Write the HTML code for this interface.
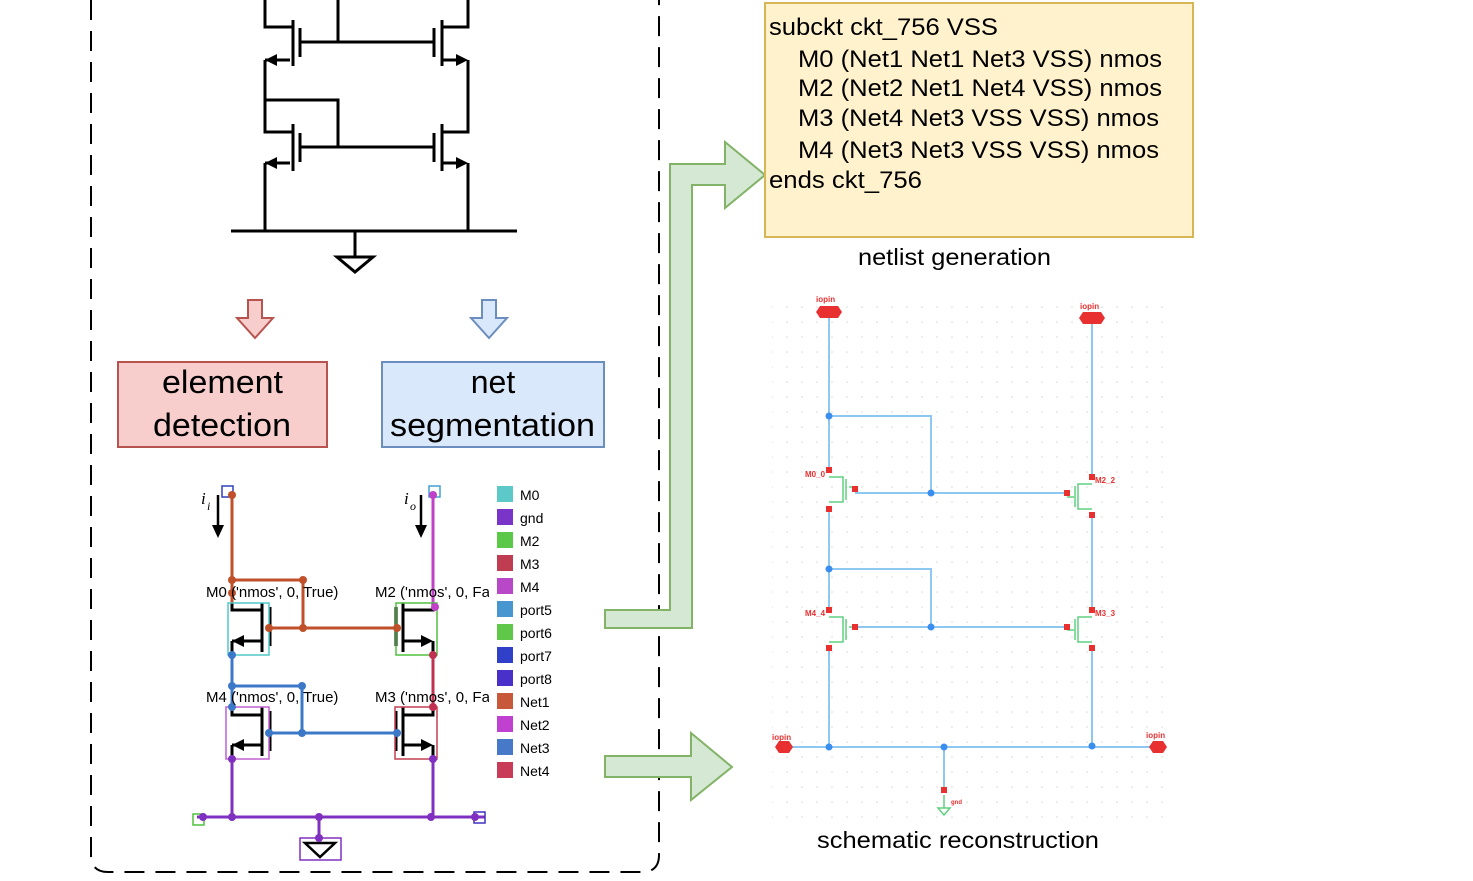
<!DOCTYPE html>
<html><head><meta charset="utf-8"><style>
body{margin:0;background:#fff;width:1473px;height:881px;overflow:hidden}
svg{display:block;font-family:"Liberation Sans",Arial,sans-serif}
</style></head><body>
<svg width="1473" height="881" viewBox="0 0 1473 881">
<defs>
<pattern id="grid" x="0" y="0" width="15" height="15" patternUnits="userSpaceOnUse"><circle cx="7" cy="7" r="0.8" fill="#d8d8d8"/></pattern>
</defs>
<path d="M91 0 V855 Q91 872 108 872 H642 Q659 872 659 855 V0" fill="none" stroke="#000" stroke-width="2" stroke-dasharray="20,11"/>

<g stroke="#000" stroke-width="3" fill="none">
<path d="M265 0V27H293 M293 20V66 M300 28V57 M300 42H434 M338 0V42 M265 60V100H338V147 M265 60H290"/>
<path d="M265 100V132H293 M293 124V171 M300 133V162 M300 147H434 M265 163H290 M265 163V231"/>
<path d="M468 0V27H442 M442 20V66 M434 28V57 M442 60H465 M468 60V132H442 M442 124V171 M434 133V162 M442 163H465 M468 163V231"/>
<path d="M231 231H517 M355 231V257 M337 257H373L355 272Z"/>
</g>
<g fill="#000">
<path d="M265 60l12-6v12z M265 163l12-6v12z M468 60l-12-6v12z M468 163l-12-6v12z"/>
</g>

<path d="M248 300H262V318H273L255 338L237 318H248Z" fill="#f8cecc" stroke="#b85450" stroke-width="2"/>
<path d="M482 300H496V318H507L489 338L471 318H482Z" fill="#dae8fc" stroke="#6c8ebf" stroke-width="2"/>

<rect x="118" y="362" width="209" height="85" fill="#f8cecc" stroke="#b85450" stroke-width="2"/>
<text x="162" y="393" font-size="32" textLength="121" lengthAdjust="spacingAndGlyphs">element</text>
<text x="153" y="436" font-size="32" textLength="138" lengthAdjust="spacingAndGlyphs">detection</text>
<rect x="382" y="362" width="222" height="85" fill="#dae8fc" stroke="#6c8ebf" stroke-width="2"/>
<text x="493" y="393" font-size="32" text-anchor="middle">net</text>
<text x="390" y="436" font-size="32" textLength="205" lengthAdjust="spacingAndGlyphs">segmentation</text>

<g fill="none" stroke-width="3">
<path d="M232 495V610H262 M262 603V652 M270 607V646 M232 641H262 M232 641V715H262 M262 707V756 M270 711V751 M232 745H262 M232 745V817 M433 495V610H403 M403 603V652 M396 607V646 M403 641H430 M433 641V715H403 M403 707V756 M396 711V751 M403 745H430 M433 745V817 M197 817H485 M319 817V838" stroke="#000"/>
<path d="M232 495V580H303V628 M232 580V603 M269 628H397" stroke="#c0502a"/>
<path d="M232 655V686H302V733 M232 686V707 M269 733H397" stroke="#3c78c8"/>
<path d="M433 495V603" stroke="#c040c8"/>
<path d="M433 655V707" stroke="#c03050"/>
<path d="M232 759V817 M433 759V817 M197 817H485 M319 817V838" stroke="#8030c0"/>
</g>
<path d="M305 843H335L320 857Z" fill="none" stroke="#000" stroke-width="2.5"/>
<g fill="#000"><path d="M232 641l12-6v12z M232 745l12-6v12z M433 641l-12-6v12z M433 745l-12-6v12z"/></g>
<g fill="none" stroke-width="1.5">
<rect x="228" y="603" width="41" height="52" stroke="#50c8c8"/>
<rect x="396" y="603" width="41" height="52" stroke="#50c040"/>
<rect x="226" y="707" width="43" height="52" stroke="#c060d0"/>
<rect x="395" y="707" width="42" height="52" stroke="#c04050"/>
<rect x="300" y="838" width="41" height="22" stroke="#8030c0"/>
<rect x="222" y="486" width="11" height="11" stroke="#3040c0"/>
<rect x="429" y="486" width="11" height="11" stroke="#40a0d0"/>
<rect x="193" y="814" width="11" height="11" stroke="#50c040"/>
<rect x="474" y="812" width="11" height="11" stroke="#4030c0"/>
</g>
<g fill="#c0502a"><circle cx="232" cy="495" r="4"/><circle cx="232" cy="580" r="4"/><circle cx="303" cy="580" r="4"/><circle cx="232" cy="593" r="4"/><circle cx="269" cy="628" r="4"/><circle cx="303" cy="628" r="4"/><circle cx="397" cy="628" r="4"/></g>
<g fill="#3c78c8"><circle cx="232" cy="655" r="4"/><circle cx="232" cy="686" r="4"/><circle cx="302" cy="686" r="4"/><circle cx="232" cy="707" r="4"/><circle cx="269" cy="733" r="4"/><circle cx="302" cy="733" r="4"/><circle cx="397" cy="733" r="4"/></g>
<g fill="#c040c8"><circle cx="433" cy="495" r="4"/><circle cx="435" cy="607" r="4"/></g>
<g fill="#c03050"><circle cx="433" cy="655" r="4"/><circle cx="433" cy="707" r="4"/></g>
<g fill="#8030c0"><circle cx="232" cy="759" r="4"/><circle cx="433" cy="759" r="4"/><circle cx="203" cy="817" r="4"/><circle cx="232" cy="817" r="4"/><circle cx="319" cy="817" r="4"/><circle cx="431" cy="817" r="4"/><circle cx="475" cy="817" r="4"/><circle cx="319" cy="838" r="4"/></g>
<g stroke="#000" stroke-width="2.5"><path d="M218 495V527 M421 495V527"/></g>
<path d="M212 525h12l-6 13z M415 525h12l-6 13z"/>
<text x="201" y="504" font-size="17" font-family="Liberation Serif" font-style="italic">i</text><text x="207" y="510" font-size="12" font-family="Liberation Serif" font-style="italic">i</text>
<text x="404" y="504" font-size="17" font-family="Liberation Serif" font-style="italic">i</text><text x="410" y="510" font-size="12" font-family="Liberation Serif" font-style="italic">o</text>
<g font-size="15"><text x="206" y="597">M0 ('nmos', 0, True)</text><text x="375" y="597">M2 ('nmos', 0, Fa</text><text x="206" y="702">M4 ('nmos', 0, True)</text><text x="375" y="702">M3 ('nmos', 0, Fa</text></g>
<rect x="489" y="580" width="10" height="130" fill="#fff"/>

<g font-size="14">
<rect x="497" y="486" width="16" height="16" fill="#5cc8c8"/><text x="520" y="500">M0</text>
<rect x="497" y="509" width="16" height="16" fill="#7a35c8"/><text x="520" y="523">gnd</text>
<rect x="497" y="532" width="16" height="16" fill="#5cc848"/><text x="520" y="546">M2</text>
<rect x="497" y="555" width="16" height="16" fill="#c03c50"/><text x="520" y="569">M3</text>
<rect x="497" y="578" width="16" height="16" fill="#b848c8"/><text x="520" y="592">M4</text>
<rect x="497" y="601" width="16" height="16" fill="#4896d0"/><text x="520" y="615">port5</text>
<rect x="497" y="624" width="16" height="16" fill="#60c848"/><text x="520" y="638">port6</text>
<rect x="497" y="647" width="16" height="16" fill="#3040c8"/><text x="520" y="661">port7</text>
<rect x="497" y="670" width="16" height="16" fill="#4830c8"/><text x="520" y="684">port8</text>
<rect x="497" y="693" width="16" height="16" fill="#c8583a"/><text x="520" y="707">Net1</text>
<rect x="497" y="716" width="16" height="16" fill="#c040d0"/><text x="520" y="730">Net2</text>
<rect x="497" y="739" width="16" height="16" fill="#4878c8"/><text x="520" y="753">Net3</text>
<rect x="497" y="762" width="16" height="16" fill="#c83c58"/><text x="520" y="776">Net4</text>
</g>

<path d="M605 610H670V164H725V142L765 175L725 208V185H692V628H605Z" fill="#d5e8d4" stroke="#82b366" stroke-width="2"/>
<path d="M605 756H691V733L732 767L691 800V777H605Z" fill="#d5e8d4" stroke="#82b366" stroke-width="2"/>

<rect x="765" y="3" width="428" height="234" fill="#fff2cc" stroke="#d6b656" stroke-width="2"/>
<g font-size="24">
<text x="769" y="35" textLength="229" lengthAdjust="spacingAndGlyphs">subckt ckt_756 VSS</text>
<text x="798" y="67" textLength="364" lengthAdjust="spacingAndGlyphs">M0 (Net1 Net1 Net3 VSS) nmos</text>
<text x="798" y="96" textLength="364" lengthAdjust="spacingAndGlyphs">M2 (Net2 Net1 Net4 VSS) nmos</text>
<text x="798" y="126" textLength="361" lengthAdjust="spacingAndGlyphs">M3 (Net4 Net3 VSS VSS) nmos</text>
<text x="798" y="158" textLength="361" lengthAdjust="spacingAndGlyphs">M4 (Net3 Net3 VSS VSS) nmos</text>
<text x="769" y="188" textLength="153" lengthAdjust="spacingAndGlyphs">ends ckt_756</text>
</g>
<text x="858" y="265" font-size="23" textLength="193" lengthAdjust="spacingAndGlyphs">netlist generation</text>

<rect x="772" y="295" width="395" height="525" fill="url(#grid)"/>
<g stroke="#8ec8f0" stroke-width="2" fill="none">
<path d="M829 312V470 M829 416H931V493 M855 493H1067 M829 509V610 M829 569H931V627 M855 627H1067 M829 648V747 M783 747H1158 M1092 318V477 M1092 515V610 M1092 648V747 M944 747V790"/>
</g>
<g stroke="#60d080" stroke-width="1.5" fill="none">
<path d="M829 477H843V502H829 M846 479V500 M849 487H855 M1092 484H1078V509H1092 M1075 486V507 M1067 497H1074 M829 617H843V642H829 M846 619V640 M849 627H855 M1092 617H1078V642H1092 M1075 619V640 M1067 630H1074 M944 795V808 M938 808H950L944 815Z"/>
</g>
<g fill="#3a8ef0"><circle cx="829" cy="416" r="3.5"/><circle cx="931" cy="493" r="3.5"/><circle cx="829" cy="569" r="3.5"/><circle cx="931" cy="627" r="3.5"/><circle cx="829" cy="747" r="3.5"/><circle cx="944" cy="747" r="3.5"/><circle cx="1092" cy="746" r="3.5"/></g>
<g fill="#e83030">
<rect x="826" y="467" width="6" height="6"/><rect x="852" y="486" width="6" height="6"/><rect x="826" y="506" width="6" height="6"/>
<rect x="1089" y="474" width="6" height="6"/><rect x="1064" y="490" width="6" height="6"/><rect x="1089" y="512" width="6" height="6"/>
<rect x="826" y="607" width="6" height="6"/><rect x="852" y="624" width="6" height="6"/><rect x="826" y="645" width="6" height="6"/>
<rect x="1089" y="607" width="6" height="6"/><rect x="1064" y="624" width="6" height="6"/><rect x="1089" y="645" width="6" height="6"/>
<rect x="941" y="787" width="6" height="6"/>
<path d="M820 306h18l4 6-4 6h-18l-4-6z M1083 312h18l4 6-4 6h-18l-4-6z M779 741h10l4 6-4 6h-10l-4-6z M1153 741h10l4 6-4 6h-10l-4-6z"/>
</g>
<g fill="#e83030" font-size="8" font-weight="bold">
<text x="816" y="302">iopin</text><text x="1080" y="309">iopin</text><text x="772" y="740">iopin</text><text x="1146" y="738">iopin</text>
<text x="805" y="477">M0_0</text><text x="1095" y="483">M2_2</text><text x="805" y="616">M4_4</text><text x="1095" y="616">M3_3</text><text x="951" y="804" font-size="6">gnd</text>
</g>
<text x="817" y="848" font-size="23" textLength="282" lengthAdjust="spacingAndGlyphs">schematic reconstruction</text>
</svg>
</body></html>
